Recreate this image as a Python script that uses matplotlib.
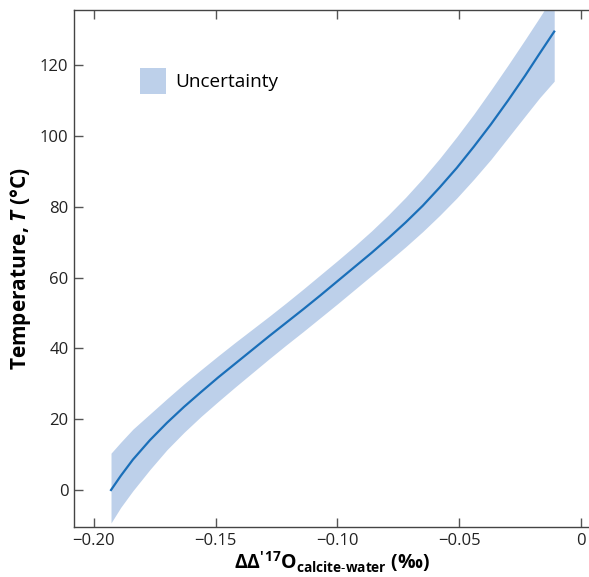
import matplotlib
matplotlib.use("Agg")
import matplotlib.pyplot as plt
from matplotlib.patches import Patch

# values
dd17 = [-0.193, -0.189, -0.184, -0.177, -0.170, -0.163, -0.156, -0.149,
        -0.142, -0.135, -0.128, -0.121, -0.114, -0.107, -0.100, -0.093,
        -0.086, -0.079, -0.072, -0.065, -0.058, -0.051, -0.044, -0.037,
        -0.030, -0.023, -0.017, -0.011]
temp = [0.0, 4.0, 8.6, 14.1, 19.0, 23.5, 27.7, 31.8,
        35.7, 39.6, 43.5, 47.3, 51.1, 55.0, 59.0, 63.0,
        67.0, 71.2, 75.6, 80.3, 85.5, 91.0, 97.0, 103.3,
        110.0, 117.0, 123.3, 129.5]
temp_upper = [10.4, 13.5, 17.2, 21.5, 25.8, 30.0, 34.0, 37.9,
              41.7, 45.4, 49.1, 52.9, 56.8, 60.8, 64.8, 68.9,
              73.2, 77.8, 82.7, 88.0, 93.7, 99.8, 106.2, 113.0,
              120.0, 127.2, 133.5, 140.0]
temp_lower = [-9.3, -4.9, -0.2, 5.8, 11.4, 16.3, 20.8, 25.0,
              29.1, 33.1, 37.1, 41.0, 44.8, 48.7, 52.6, 56.6,
              60.6, 64.6, 68.7, 73.0, 77.6, 82.5, 87.8, 93.4,
              99.5, 105.6, 110.8, 115.5]

x_ticks = [-0.20, -0.15, -0.10, -0.05, 0.0]
x_tick_labels = ["\u22120.20", "\u22120.15", "\u22120.10", "\u22120.05", "0"]
y_ticks = [0, 20, 40, 60, 80, 100, 120]

LINE_COLOR = "#1a6fb9"
BAND_COLOR = "#bdd0ea"

plt.rcParams["font.family"] = ["Open Sans", "DejaVu Sans"]
plt.rcParams["mathtext.fontset"] = "custom"
plt.rcParams["mathtext.rm"] = "Open Sans"
plt.rcParams["mathtext.bf"] = "Open Sans:bold"
plt.rcParams["mathtext.it"] = "Open Sans:bold:italic"

figure = plt.figure(figsize=(5.89, 5.77), dpi=100)
axis = figure.add_axes([74 / 589, 1 - 527 / 577, 516 / 589, 517 / 577])

axis.fill_between(dd17, temp_lower, temp_upper, color=BAND_COLOR, linewidth=0)
axis.plot(dd17, temp, color=LINE_COLOR, linewidth=1.6)

axis.set_xlim(-0.2082, 0.0037)
axis.set_ylim(-10.45, 135.6)
axis.set_xticks(x_ticks)
axis.set_xticklabels(x_tick_labels)
axis.set_yticks(y_ticks)

axis.tick_params(direction="in", length=6.5, width=1.0, color="#555555",
                 labelsize=12, labelcolor="#222222", top=True, right=False, pad=4)
for name in ["left", "bottom", "top"]:
    axis.spines[name].set_color("#444444")
    axis.spines[name].set_linewidth(1.0)
axis.spines["right"].set_visible(False)

axis.set_xlabel(r"$\mathbf{\Delta\Delta'^{17}O_{calcite\text{-}water}}$ (‰)",
                fontsize=14, fontweight="bold", labelpad=1)
axis.set_ylabel(r"Temperature, $T$ (°C)", fontsize=15, fontweight="bold", labelpad=5)

handle = Patch(facecolor=BAND_COLOR, edgecolor="none", label="Uncertainty")
axis.legend(handles=[handle], loc="upper left", bbox_to_anchor=(0.128, 0.888),
            frameon=False, fontsize=13.7, handlelength=1.37, handleheight=1.72,
            handletextpad=0.5, borderpad=0, borderaxespad=0)

figure.savefig("out.png", dpi=100)
plt.close(figure)
